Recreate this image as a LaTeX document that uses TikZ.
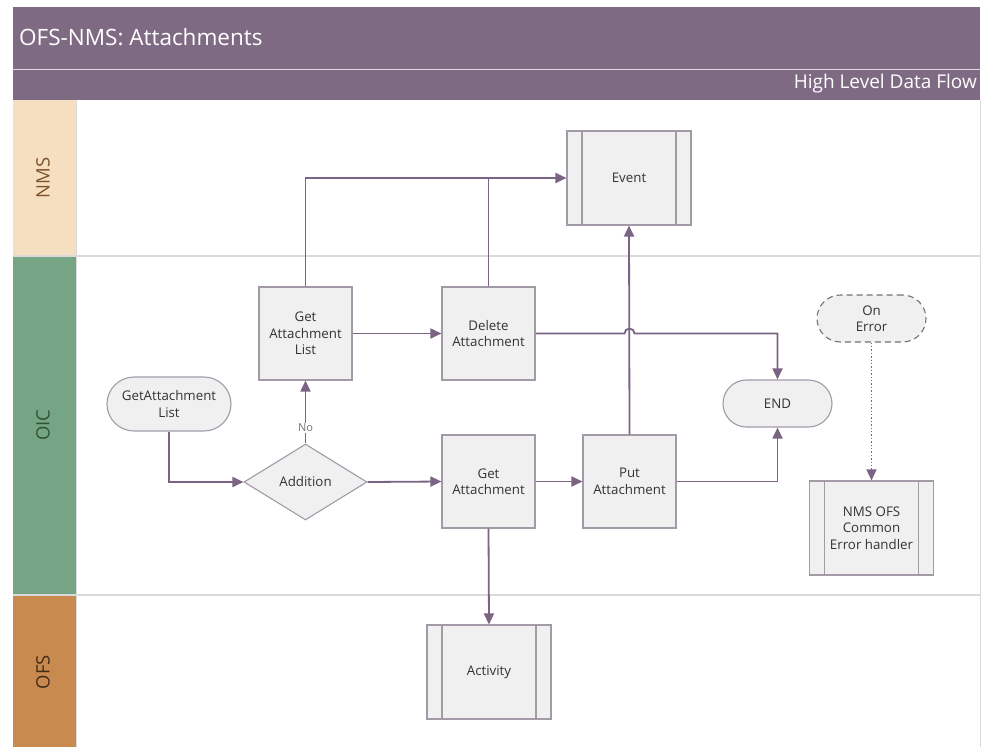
\documentclass[tikz,border=0pt]{standalone}
\usepackage{fontspec}
\setmainfont{Open Sans}
\usetikzlibrary{shapes.geometric,arrows.meta}
\definecolor{hdr}{HTML}{7F6A83}
\definecolor{flow}{HTML}{7B6384}
\definecolor{boxfill}{HTML}{F0F0F0}
\definecolor{boxdraw}{HTML}{A39AA8}
\definecolor{txt}{HTML}{333333}
\definecolor{nmsc}{HTML}{F5DFC0}
\definecolor{oicc}{HTML}{76A586}
\definecolor{ofsc}{HTML}{C98A4F}
\definecolor{sepc}{HTML}{DADADA}
\tikzset{
  x=1pt,y=-1pt,
  boxtxt/.style={font=\fontsize{13.3}{16.5}\selectfont, text=txt, align=center},
  procbox/.style={boxtxt, draw=boxdraw, fill=boxfill, line width=1.1pt, minimum width=93pt, minimum height=93pt, inner sep=2pt},
  subbox/.style={boxtxt, draw=boxdraw, fill=boxfill, line width=1.1pt, minimum width=124pt, minimum height=94pt, inner sep=2pt,
    path picture={\draw[boxdraw,line width=1.1pt]
      ([xshift=15pt]path picture bounding box.north west) -- ([xshift=15pt]path picture bounding box.south west)
      ([xshift=-15pt]path picture bounding box.north east) -- ([xshift=-15pt]path picture bounding box.south east);}},
  term/.style={boxtxt, draw=boxdraw, fill=boxfill, line width=1.1pt, inner sep=2pt},
  decis/.style={boxtxt, diamond, draw=boxdraw, fill=boxfill, line width=1.1pt, minimum width=123pt, minimum height=76pt, inner sep=0pt},
  flowline/.style={draw=flow, line width=1.8pt, -{Triangle[length=11pt,width=10pt]}},
  plainline/.style={draw=flow, line width=1.8pt},
  lanelbl/.style={rotate=90, font=\fontsize{18.5}{22}\selectfont},
}
\begin{document}
\begin{tikzpicture}
\useasboundingbox (0,0) rectangle (985,747);
\fill[white] (0,0) rectangle (985,747);
% header
\fill[hdr] (13,7) rectangle (980,100);
\draw[white!75!hdr, line width=1pt] (13,69.5) -- (980,69.5);
\node[anchor=west, text=white, font=\fontsize{22.5}{26}\selectfont, inner sep=0pt] (title) at (19,37) {OFS-NMS: Attachments};
\node[anchor=east, text=white, font=\fontsize{19}{22}\selectfont, inner sep=0pt] (subt) at (977,84) {High Level Data Flow};
% lanes
\fill[nmsc] (13,100) rectangle (76,256);
\fill[oicc] (13,256) rectangle (76,595);
\fill[ofsc] (13,595) rectangle (76,747);
\draw[sepc, line width=1.5pt] (13,256) -- (980,256);
\draw[sepc, line width=1.5pt] (13,595) -- (980,595);
\draw[sepc, line width=1pt] (76.5,100) -- (76.5,747);
\draw[sepc, line width=1pt] (980,100) -- (980,747);
\node[lanelbl, text=black!35!brown] (lnms) at (43,178) {NMS};
\node[lanelbl, text=black!80!green!60!gray] (loic) at (43,425) {OIC};
\node[lanelbl, text=black!65!brown] (lofs) at (43,672) {OFS};
% nodes
\node[subbox] (event) at (629,178) {Event};
\node[procbox] (gal) at (305.5,333.5) {Get\\Attachment\\List};
\node[procbox] (del) at (488.5,333.5) {Delete\\Attachment};
\node[term, minimum width=124pt, minimum height=54pt, rounded corners=27pt] (start) at (169,404) {GetAttachment\\List};
\node[decis] (add) at (305.5,482) {Addition};
\node[procbox] (ga) at (488.5,481.5) {Get\\Attachment};
\node[procbox] (pa) at (629.5,481.5) {Put\\Attachment};
\node[term, minimum width=109pt, minimum height=47pt, rounded corners=23.5pt] (end) at (777.5,403.5) {END};
\node[term, draw=black!55, dashed, dash pattern=on 6pt off 4pt, minimum width=109pt, minimum height=47pt, rounded corners=23.5pt] (onerr) at (871.5,318.5) {On\\Error};
\node[subbox] (err) at (871.5,528) {NMS OFS\\Common\\Error handler};
\node[subbox] (act) at (489,672) {Activity};
% connectors
\draw[flowline] (start.south) |- (add.west);
\draw[flowline] (add.north) -- node[pos=0.25, fill=white, inner sep=1pt, font=\fontsize{11}{12}\selectfont, text=black!55] (nolbl) {No} (gal.south);
\draw[flowline] (add.east) -- (ga.west);
\draw[flowline] (gal.north) |- (event.west);
\draw[flowline] (gal.east) -- (del.west);
\draw[plainline] (del.north) -- (del.north |- event.west);
\draw[flowline] (del.east) -- ([xshift=-5pt]pa.north |- del.east) arc[start angle=180,end angle=0,radius=5pt] -| (end.north);
\draw[flowline] (ga.east) -- (pa.west);
\draw[flowline] (pa.north) -- (event.south);
\draw[flowline] (pa.east) -| (end.south);
\draw[flowline] (ga.south) -- (act.north);
\draw[flow, line width=1.4pt, dotted, -{Triangle[length=11pt,width=10pt]}] (onerr.south) -- (err.north);
\end{tikzpicture}
\end{document}
